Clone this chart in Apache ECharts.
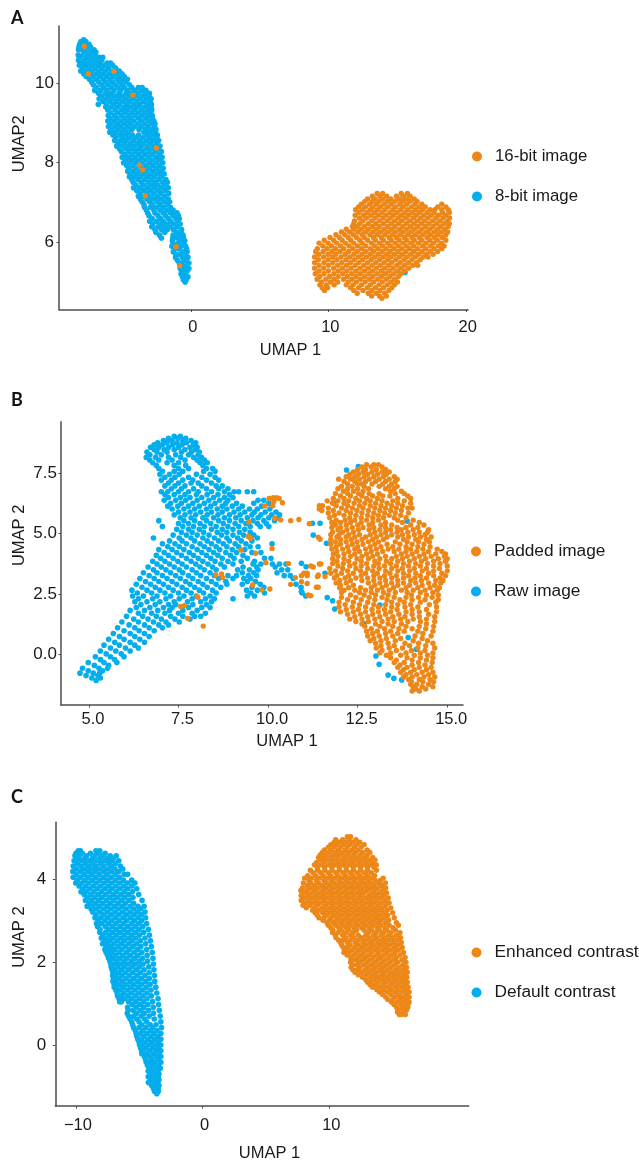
<!DOCTYPE html>
<html><head><meta charset="utf-8">
<style>html,body{margin:0;padding:0;background:#fff}#c{width:639px;height:1162px}</style>
<script src="https://cdn.jsdelivr.net/npm/echarts@6/dist/echarts.min.js"></script>
</head><body><div id="c"></div>
<script>
// Each row: [y, x, x, x ...].
const aBlue = [
[11.08,-7.8],[11.04,-8.0,-7.65],[10.97,-8.1,-7.85,-7.42],[10.9,-8.15,-7.6,-7.3],[10.83,-8.18,-7.92,-7.4,-7.05],[10.77,-7.7,-7.2,-6.92],[10.7,-8.2,-7.85,-7.4,-6.98],[10.64,-8.1,-7.55,-7.1,-6.7,-6.42],
[10.57,-8.18,-7.75,-7.3,-6.85,-6.5],[10.5,-7.95,-7.5,-7.0,-6.62,-6.1,-5.85],[10.44,-8.12,-7.7,-7.25,-6.75,-6.3,-5.7],[10.37,-7.9,-7.45,-6.98,-6.5,-6.02,-5.48],[10.3,-8.02,-7.6,-7.18,-6.72,-6.2,-5.75,-5.22],
[10.23,-7.8,-7.3,-6.85,-6.42,-5.9,-5.42,-5.02],[10.16,-7.62,-7.08,-6.6,-6.15,-5.65,-5.2,-4.85],[10.09,-7.38,-6.9,-6.38,-5.88,-5.38,-4.95,-4.62],[10.02,-7.22,-6.72,-6.2,-5.72,-5.18,-4.72],[9.95,-7.1,-6.5,-6.02,-5.5,-5.0,-4.48],
[9.88,-6.85,-6.35,-5.8,-5.3,-4.85,-4.3,-3.82,-3.55],[9.81,-7.0,-6.55,-6.1,-5.6,-5.12,-4.62,-4.12,-3.6,-3.28],[9.74,-6.72,-6.2,-5.78,-5.22,-4.72,-4.3,-3.82,-3.3,-3.02],[9.67,-6.5,-5.98,-5.5,-5.02,-4.48,-3.98,-3.5,-3.05],
[9.6,-6.68,-6.2,-5.72,-5.25,-4.75,-4.22,-3.7,-3.22,-2.9],[9.53,-6.4,-5.92,-5.42,-4.95,-4.48,-3.95,-3.45,-2.95],[9.46,-6.74,-6.15,-5.65,-5.18,-4.65,-4.15,-3.72,-3.18,-2.88],[9.39,-6.2,-5.82,-5.35,-4.85,-4.38,-3.9,-3.4,-2.9],
[9.32,-6.05,-5.52,-5.05,-4.6,-4.12,-3.6,-3.12,-2.85],[9.25,-5.85,-5.32,-4.8,-4.3,-3.85,-3.35,-2.92],[9.18,-6.02,-5.55,-5.05,-4.55,-4.08,-3.58,-3.1,-2.82],[9.11,-5.88,-5.38,-4.85,-4.38,-3.82,-3.3,-2.8],
[9.04,-6.05,-5.6,-5.1,-4.62,-4.15,-3.6,-3.05,-2.7],[8.97,-5.85,-5.35,-4.85,-4.4,-3.85,-3.35,-2.88,-2.62],[8.9,-6.0,-5.52,-5.1,-4.58,-4.1,-3.62,-3.15,-2.65],[8.83,-5.78,-5.3,-4.82,-4.3,-3.78,-3.3,-2.85,-2.55],
[8.76,-5.9,-5.52,-5.02,-4.55,-3.42,-3.02,-2.58],[8.69,-5.68,-5.22,-4.75,-4.25,-3.8,-3.2,-2.72,-2.45],[8.62,-5.48,-4.98,-4.5,-4.02,-3.5,-3.0,-2.48],[8.55,-5.55,-5.12,-4.7,-4.2,-3.72,-3.22,-2.75,-2.35],
[8.48,-5.32,-4.85,-4.38,-3.9,-3.45,-2.95,-2.5],[8.41,-5.4,-5.02,-4.55,-4.1,-3.62,-3.15,-2.65,-2.25],[8.34,-5.2,-4.72,-4.25,-3.78,-3.28,-2.85,-2.38],[8.27,-5.05,-4.52,-4.02,-3.55,-3.08,-2.58,-2.15],
[8.2,-4.8,-4.3,-3.8,-3.3,-2.82,-2.3],[8.13,-5.0,-4.55,-4.08,-3.58,-3.08,-2.52,-2.1],[8.06,-4.78,-4.3,-3.82,-3.28,-2.8,-2.28],[7.99,-4.9,-4.5,-4.02,-3.55,-3.02,-2.55,-2.05],
[7.92,-4.68,-4.22,-3.7,-3.25,-2.78,-2.3],[7.85,-4.52,-4.0,-3.5,-3.0,-2.5,-2.02],[7.78,-4.6,-4.25,-3.72,-3.25,-2.75,-2.22],[7.71,-4.42,-3.95,-3.42,-2.95,-2.42,-1.95],
[7.64,-4.48,-4.12,-3.68,-3.15,-2.68,-2.15],[7.57,-4.3,-3.85,-3.35,-2.85,-2.35,-1.82],[7.5,-4.2,-3.62,-3.08,-2.6,-2.05,-1.72],[7.43,-4.0,-3.42,-2.88,-2.4,-1.85],
[7.36,-4.18,-3.7,-3.15,-2.65,-2.12,-1.65],[7.29,-3.95,-3.45,-2.95,-2.4,-1.88],[7.22,-3.75,-3.2,-2.7,-2.18,-1.62],[7.15,-3.82,-3.48,-2.98,-2.45,-1.9],
[7.08,-3.68,-3.2,-2.72,-2.2,-1.65],[7.01,-3.55,-3.0,-2.48,-1.95,-1.55],[6.94,-3.42,-2.82,-2.25,-1.72],[6.87,-3.38,-2.95,-2.52,-2.02,-1.5],[6.8,-3.25,-2.7,-2.25,-1.75,-1.3],
[6.73,-3.15,-2.62,-2.02,-1.48,-1.02],[6.66,-3.05,-2.4,-1.85,-1.3,-0.92],[6.59,-2.82,-2.22,-1.65,-1.1,-0.85],[6.52,-3.0,-2.5,-2.02,-1.48,-0.95],
[6.45,-2.78,-2.22,-1.78,-1.25,-0.78],[6.38,-2.85,-2.4,-1.98,-1.55,-1.0],[6.31,-2.62,-2.15,-1.72,-1.28,-0.68],[6.24,-2.55,-1.9,-1.02,-0.72],[6.17,-2.28,-1.3,-0.85,-0.58],
[6.1,-2.15,-1.32,-1.02,-0.55],[6.03,-1.35,-0.78,-0.45],[5.96,-1.3,-0.95,-0.52],[5.89,-1.38,-0.72,-0.38],[5.82,-1.2,-0.9,-0.32],[5.75,-1.28,-0.58,-0.28],[5.68,-1.08,-0.78,-0.4],
[5.61,-1.12,-0.6,-0.22],[5.54,-0.98,-0.42],[5.47,-0.85,-0.65,-0.15],[5.4,-0.72,-0.35],[5.33,-0.78,-0.5,-0.15],[5.26,-0.68,-0.28],[5.19,-0.72,-0.45],[5.12,-0.6,-0.22],[5.05,-0.55,-0.35],[4.99,-0.42],[5.23,15.58]
];
const aOrange = [
[7.22,13.55,13.95,15.3,15.75],[7.15,13.2,13.75,14.25,14.95,15.45,15.95],[7.08,12.85,13.4,13.95,14.55,15.15,15.7,16.25],[7.02,12.65,13.2,13.7,14.3,14.85,15.4,15.95,16.45],
[6.95,12.4,13.0,13.5,14.05,14.6,15.2,15.7,16.3,16.8,18.25],[6.88,12.2,12.7,13.25,13.8,14.35,14.9,15.45,16.05,16.6,17.05,17.95,18.55],[6.81,11.98,12.5,13.05,13.58,14.12,14.7,15.25,15.78,16.35,16.85,17.4,17.75,18.25,18.72],
[6.74,12.22,12.82,13.35,13.9,14.48,15.0,15.58,16.1,16.62,17.2,17.7,18.3,18.8],[6.67,11.95,12.55,13.1,13.65,14.2,14.75,15.32,15.85,16.4,16.95,17.48,18.02,18.55],[6.6,12.25,12.8,13.4,13.98,14.5,15.08,15.62,16.18,16.72,17.25,17.82,18.35,18.82],
[6.53,11.9,12.52,13.15,13.72,14.28,14.82,15.35,15.92,16.48,17.02,17.58,18.12,18.68],[6.46,11.85,12.28,12.9,13.45,14.0,14.58,15.12,15.68,16.22,16.78,17.32,17.88,18.42,18.8],[6.39,11.75,12.1,12.62,13.2,13.72,14.3,14.85,15.42,15.98,16.5,17.08,17.62,18.18,18.72],
[6.32,11.3,11.85,12.38,12.92,13.5,14.05,14.6,15.18,15.72,16.25,16.82,17.38,17.95,18.48],[6.25,10.95,11.55,12.15,12.7,13.25,13.8,14.35,14.9,15.45,16.02,16.58,17.15,17.7,18.25,18.68],[6.18,10.55,11.2,11.82,12.45,13.02,13.55,14.12,14.68,15.22,15.78,16.32,16.88,17.42,17.98,18.55],
[6.11,10.12,10.8,11.45,12.05,12.62,13.28,13.85,14.42,14.95,15.52,16.08,16.62,17.18,17.72,18.28],[6.04,9.7,10.38,11.0,11.62,12.28,12.85,13.42,14.0,14.58,15.15,15.7,16.25,16.8,17.38,17.92,18.55],[5.97,9.32,9.98,10.6,11.25,11.85,12.45,13.12,13.72,14.3,14.85,15.42,16.0,16.55,17.1,17.65,18.22],
[5.9,9.6,10.22,10.88,11.5,12.12,12.72,13.38,13.95,14.52,15.1,15.68,16.22,16.85,17.42,18.0,18.42],[5.83,9.2,9.9,10.52,11.12,11.78,12.42,13.05,13.62,14.2,14.78,15.35,15.92,16.5,17.08,17.68,18.25],[5.76,9.08,9.62,10.25,10.85,11.48,12.1,12.72,13.3,13.92,14.5,15.08,15.65,16.22,16.82,17.4,17.95],
[5.69,9.3,9.98,10.55,11.22,11.85,12.45,13.05,13.65,14.25,14.82,15.4,16.0,16.55,17.15,17.62],[5.62,9.0,9.65,10.3,10.92,11.55,12.18,12.78,13.38,13.98,14.55,15.15,15.72,16.32,16.9,17.25],[5.55,9.28,9.98,10.62,11.28,11.88,12.5,13.12,13.72,14.32,14.9,15.5,16.08,16.68],
[5.48,9.0,9.68,10.32,10.98,11.6,12.22,12.85,13.45,14.05,14.62,15.22,15.82,16.42],[5.41,9.32,10.0,10.68,11.32,11.95,12.58,13.18,13.78,14.38,14.98,15.55,16.15,16.5],[5.34,9.0,9.65,10.38,11.02,11.65,12.3,12.9,13.5,14.1,14.7,15.28,15.85],
[5.27,9.32,10.0,10.72,11.35,12.0,12.62,13.22,13.85,14.42,15.02,15.55],[5.2,9.05,9.68,10.4,11.05,11.7,12.32,12.95,13.55,14.15,14.75,15.28],[5.13,9.38,10.08,10.72,11.38,12.02,12.65,13.25,13.88,14.48,15.1],
[5.06,9.18,9.82,10.42,11.1,11.72,12.35,12.98,13.6,14.22,14.82],[4.99,9.5,10.15,10.68,11.45,12.05,12.68,13.3,13.92,14.55,15.02],[4.92,9.38,9.85,10.42,11.3,11.8,12.42,13.05,13.68,14.28,14.8],
[4.85,9.55,9.95,11.62,12.2,12.82,13.42,14.02,14.62],[4.78,9.72,11.85,12.52,13.15,13.75,14.4],[4.71,12.1,12.9,13.48,14.1],[4.64,13.15,13.72,14.22],[4.58,13.9],
[10.92,-7.76],[10.23,-7.47],[10.29,-5.6],[9.69,-4.22],[8.36,-2.52],[7.93,-3.74],[7.81,-3.52],[7.16,-3.32],[5.88,-1.09],[5.4,-0.82]
];
const bBlue = [
[9.04,7.38,7.55],[8.95,7.22,7.48,7.7],[8.86,7.08,7.32,7.62,7.85],[8.77,6.92,7.18,7.46,7.72,7.98],[8.68,6.82,7.05,7.34,7.6,7.92],[8.58,6.72,6.95,7.22,7.5,7.82,8.02],[8.48,6.82,7.1,7.38,7.68,7.96],
[8.38,6.62,6.9,7.18,7.58,7.86,8.08],[8.27,6.7,7.02,7.42,7.78,8.05],[8.16,6.6,6.86,7.22,7.56,7.92,8.14],[8.05,6.7,6.95,7.32,7.68,8.02,8.22],[7.94,6.78,7.18,7.5,8.1,8.3],[7.83,6.88,7.38,7.7,8.18],
[7.7,6.95,7.5,7.78,8.28,8.45],[7.58,7.05,7.38,7.62,8.2,8.52],[7.46,6.98,7.25,7.52,8.0,8.38],[7.34,7.12,7.4,7.78,8.15,8.52],[7.22,7.02,7.3,7.62,7.9,8.28,8.62],[7.1,7.22,7.5,7.85,8.05,8.42],
[6.98,7.12,7.4,7.68,8.15,8.55,8.72],[6.86,7.3,7.58,7.92,8.28,8.62,8.88],[6.74,7.02,7.2,7.5,7.78,8.05,8.42,8.78,9.05,9.18,9.42,9.6],[6.62,7.12,7.38,7.68,8.0,8.3,8.6,8.92],[6.5,7.22,7.55,7.82,8.15,8.48,8.78,9.02],
[6.38,7.1,7.42,7.7,8.02,8.35,8.65,8.88,9.72,9.88],[6.26,7.28,7.58,7.9,8.22,8.52,8.82,9.12,9.6,10.02],[6.14,7.2,7.48,7.78,8.08,8.4,8.72,9.0,9.28,9.82],[6.02,7.32,7.65,7.95,8.28,8.58,8.85,9.18,9.48,9.7,10.05],
[5.9,7.5,7.82,8.12,8.42,8.72,9.05,9.35,9.62,9.92,10.22],[5.78,7.38,7.68,7.98,8.3,8.6,8.92,9.22,9.55,9.8,10.1,10.32],[5.66,7.55,7.85,8.18,8.48,8.78,9.1,9.42,9.72,10.02,10.28],[5.54,6.95,7.65,7.95,8.28,8.62,8.92,9.25,9.58,9.88,10.18],
[5.42,7.5,7.78,8.1,8.4,8.75,9.08,9.38,9.7,9.95],[5.3,7.05,7.62,7.92,8.22,8.55,8.88,9.18,9.5,9.78,10.02],[5.18,7.45,7.78,8.08,8.42,8.72,9.02,9.35],[5.06,7.58,7.88,8.2,8.58,8.85,9.2,9.5],
[4.94,7.35,7.72,8.02,8.35,8.7,9.02,9.32,9.6],[4.82,6.8,7.52,7.85,8.18,8.5,8.85,9.15,9.7],[4.7,7.25,7.6,7.95,8.3,8.62,8.92,9.25,9.55],[4.58,7.05,7.4,7.72,8.1,8.42,8.75,9.08,9.38,10.11],
[4.46,7.2,7.52,7.88,8.22,8.55,8.85,9.18,9.5,9.72],[4.34,6.95,7.32,7.65,8.02,8.35,8.65,9.0,9.35],[4.22,7.1,7.45,7.8,8.15,8.48,8.82,9.12,9.55,9.8],[4.1,6.88,7.22,7.58,7.92,8.28,8.6,8.95,9.3],
[3.98,7.0,7.35,7.72,8.05,8.4,8.72,9.05,9.42,9.9,10.08],[3.86,6.78,7.12,7.48,7.85,8.18,8.52,8.88,9.25,9.62],[3.74,6.9,7.25,7.6,7.98,8.32,8.68,9.02,9.58,9.8,10.12,10.32,10.5],[3.62,6.65,7.02,7.38,7.72,8.1,8.45,8.78,9.3,9.68,10.2],
[3.5,6.8,7.15,7.52,7.88,8.22,8.55,9.15,9.48,9.72,10.38,10.55],[3.38,6.52,6.9,7.28,7.62,8.0,8.38,9.28,9.6,10.25],[3.26,6.68,7.05,7.42,7.78,8.12,8.5,8.88,9.12,9.45,9.68,10.45,10.62],[3.14,6.42,6.82,7.18,7.55,7.9,8.28,8.62,9.02,9.32,9.52,10.7],
[3.02,6.58,6.95,7.32,7.7,8.05,8.42,8.82,9.42,9.65],[2.9,6.32,6.72,7.08,7.45,7.82,8.18,8.55,8.85,9.28,9.78,10.78],[2.78,6.48,6.85,7.22,7.6,7.95,8.3,8.68,9.55,9.88,10.92],
[2.66,6.2,6.62,6.98,7.35,7.72,8.08,8.45,9.4,9.7],[2.54,6.35,6.75,7.12,7.5,7.85,8.2,8.55,9.52,9.9,10.95],[2.42,6.22,6.52,6.9,7.28,7.65,8.0,8.38,9.42,9.62,11.05],[2.3,6.38,6.78,7.15,7.52,7.88,8.25,8.5,9.02],
[2.18,6.28,6.62,6.98,7.38,7.75,8.12,8.42],[2.06,6.45,6.85,7.22,7.42,7.9,8.28],[1.94,6.32,6.7,7.08,7.32,7.78,8.15,8.38],[1.82,6.15,6.55,6.92,7.25,7.62,8.02],[1.7,6.38,6.75,7.12,7.5,7.88,8.25],
[1.58,6.05,6.5,6.88,7.28,7.62,7.95,8.12],[1.46,6.25,6.65,7.02,7.4,7.82],[1.34,5.92,6.38,6.8,7.15,7.52],[1.22,6.12,6.55,6.95,7.22],[1.1,5.8,6.28,6.68,7.05],[0.98,5.98,6.4,6.82],[0.86,5.68,6.15,6.55],
[0.74,5.85,6.28,6.68],[0.62,5.55,5.98,6.42],[0.5,5.72,6.15,6.55],[0.38,5.42,5.85,6.28],[0.26,5.6,6.02,6.38],[0.14,5.32,5.75,6.15],[0.02,5.48,5.9],[-0.1,5.18,5.6,5.98],[-0.22,5.32,5.72],
[-0.34,4.98,5.42,5.78],[-0.46,5.15,5.55],[-0.58,4.82,5.28,5.52],[-0.68,4.98,5.38],[-0.78,4.75,5.12,5.3],[-0.88,4.92,5.25],[-0.98,5.08,5.32],[-1.08,5.2],
[7.64,12.19],[7.78,12.52],[6.28,11.82],[5.43,11.24,11.45],[4.94,11.26],[4.6,11.63],[3.77,10.93],[3.63,11.06],[3.36,11.59],
[2.6,10.93],[2.35,11.65],[2.22,11.8],[1.88,11.86],[1.26,12.68],[2.04,13.12],[-0.07,13.01],[-0.41,13.1],[-0.86,13.35],[-0.99,13.51],[-1.06,13.73],[0.7,13.91],[0.21,14.14],[5.52,13.88]
];
const bOrange = [
[6.46,10.03,10.31],[6.49,10.14,10.24],[6.28,10.4],[6.15,9.91],[6.33,10.16],[6.16,10.13,11.43],[5.64,10.19],[5.57,10.35],[5.54,10.63],[5.59,10.86],[5.41,11.15],
[5.48,9.47],[4.88,9.45],[4.81,9.51],[4.32,9.24],[4.19,9.65],[4.39,10.11],[3.8,9.94],[3.76,10.57],[3.66,11.19],[3.62,11.26],[3.29,8.54],[3.33,8.7],[3.18,8.73,10.76],
[3.36,11.0,11.09],[3.26,10.93,11.09],[3.01,10.93],[2.9,10.63],[2.94,11.09],[3.22,11.38,11.59],[2.78,11.35,11.4],[2.87,9.57],[2.67,9.82],[2.71,10.05],[2.43,11.19],[2.4,8.02],[2.36,8.04],
[1.98,7.56],[2.02,7.66],[1.49,7.76],[1.17,8.19],[6.02,11.43],[4.85,11.4],[3.74,11.43,11.47],[4.77,11.45],[2.46,11.12],[3.29,11.4],
[7.86,12.75,12.95,13.08],[7.76,12.62,12.88,13.18],[7.66,12.5,12.72,13.02,13.28],[7.56,12.38,12.65,12.9,13.18,13.38],[7.46,12.28,12.52,12.78,13.05,13.3],[7.36,12.18,12.42,12.68,12.95,13.22,13.52],
[7.26,11.97,12.3,12.55,12.82,13.1,13.38,13.6],[7.16,12.12,12.42,12.72,13.0,13.28,13.55],[7.06,12.22,12.5,12.62,12.9,13.2,13.45],[6.96,12.05,12.35,12.68,13.1,13.38,13.6],[6.86,11.95,12.22,12.5,12.8,13.28,13.52],
[6.76,12.1,12.38,12.65,13.42,13.72],[6.66,11.88,12.22,12.52,12.82,13.1,13.55,13.8],[6.56,12.02,12.3,12.62,12.92,13.2,13.4,13.9],[6.46,11.82,12.12,12.45,12.75,13.05,13.62,13.98],
[6.36,11.65,11.95,12.25,12.55,12.85,13.18,13.48,13.8],[6.26,11.8,12.12,12.4,12.7,13.0,13.32,13.62,13.98],[6.16,11.52,11.9,12.22,12.55,12.85,13.15,13.45,13.75],[6.06,11.68,12.05,12.35,12.65,12.98,13.28,13.58,13.9,14.02],
[5.96,11.5,11.82,12.18,12.48,12.8,13.12,13.42,13.72],[5.86,11.68,11.98,12.3,12.62,12.95,13.25,13.55,13.92],[5.76,11.85,12.12,12.45,12.78,13.08,13.38,13.7],[5.66,11.72,12.28,12.6,12.92,13.22,13.52,13.85],
[5.56,11.9,12.15,12.42,12.75,13.08,13.62,14.05],[5.46,11.78,12.02,12.3,12.6,12.92,13.28,13.75,14.22],[5.36,11.88,12.18,12.5,12.82,13.15,13.45,13.98,14.35],[5.26,11.78,12.02,12.35,12.65,12.95,13.28,13.6,13.85,14.18],
[5.16,11.95,12.2,12.52,12.82,13.12,13.42,13.72,14.05,14.48],[5.06,11.8,12.08,12.38,12.98,13.28,13.6,13.9,14.22,14.45],[4.96,11.75,11.98,12.25,12.55,12.85,13.15,13.45,13.75,14.08,14.38],[4.86,11.92,12.18,12.42,12.72,13.02,13.32,13.62,13.92,14.25,14.55],
[4.76,11.75,12.02,12.32,12.62,12.92,13.22,13.78,14.12,14.42],[4.66,11.88,12.18,12.48,12.8,13.08,13.55,13.88,14.2,14.5],[4.56,11.75,12.02,12.35,12.65,12.98,13.32,13.68,14.02,14.35],[4.46,11.9,12.22,12.5,12.85,13.15,13.48,13.85,14.18,14.52],
[4.36,11.78,12.08,12.42,12.72,13.02,13.35,13.65,13.98,14.32,14.72],[4.26,11.92,12.25,12.55,12.88,13.2,13.52,13.85,14.15,14.48,14.85],[4.16,11.82,12.12,12.42,12.75,13.05,13.72,14.02,14.35,14.68,14.95],[4.06,11.95,12.3,12.62,12.92,13.28,13.58,13.88,14.22,14.55,14.92],
[3.96,11.8,12.12,12.48,12.8,13.12,13.45,13.75,14.08,14.4,14.75,15.0],[3.86,11.92,12.25,12.6,12.98,13.3,13.62,13.95,14.28,14.62,14.95],[3.76,11.8,12.1,12.42,12.75,13.08,13.42,13.78,14.12,14.45,14.8],[3.66,11.95,12.28,12.6,12.95,13.25,13.58,13.92,14.25,14.62,15.0],
[3.56,11.72,12.08,12.45,12.78,13.1,13.45,13.75,14.08,14.42,14.78],[3.46,11.88,12.22,12.58,12.92,13.28,13.62,13.95,14.3,14.62,15.0],[3.36,11.75,12.05,12.38,12.72,13.05,13.4,13.78,14.12,14.48,14.85],[3.26,11.92,12.25,12.6,12.95,13.25,13.58,13.92,14.25,14.62,14.95],
[3.16,11.85,12.15,12.45,12.78,13.12,13.45,13.78,14.1,14.42,14.8],[3.06,12.0,12.3,12.62,12.95,13.28,13.62,13.98,14.28,14.68,14.88],[2.96,11.9,12.18,12.8,13.12,13.45,13.78,14.12,14.48,14.82],[2.86,12.02,12.38,12.98,13.3,13.62,13.95,14.3,14.65],
[2.76,12.0,12.25,12.58,12.88,13.18,13.5,13.85,14.18,14.52,14.78],[2.66,12.12,12.42,12.72,13.05,13.38,13.72,14.05,14.38,14.72],[2.56,12.05,12.55,12.88,13.22,13.55,13.88,14.25,14.6],[2.46,12.3,12.68,13.0,13.35,14.0,14.42,14.75],
[2.36,12.05,12.45,12.82,13.18,13.52,13.85,14.2,14.58],[2.26,12.22,12.6,12.98,13.32,13.68,14.02,14.38,14.75],[2.16,11.98,12.38,12.78,13.45,13.8,14.25,14.68],[2.06,12.15,12.55,12.95,13.28,13.62,13.98,14.5],
[1.96,11.98,12.35,12.72,13.08,13.45,13.82,14.18,14.7],[1.86,12.18,12.52,12.9,13.25,13.6,14.02,14.42],[1.76,12.02,12.38,12.72,13.08,13.42,13.85,14.22,14.7],[1.66,12.22,12.58,12.92,13.28,13.65,14.02,14.48],
[1.56,12.42,12.78,13.12,13.48,13.82,14.22,14.65],[1.46,12.28,12.62,12.98,13.35,13.7,14.05,14.42],[1.36,12.45,12.8,13.18,13.52,13.9,14.25,14.65],[1.26,12.62,13.0,13.35,13.72,14.42],
[1.16,12.7,13.12,13.48,13.85,14.22,14.62],[1.06,12.88,13.25,13.65,14.02,14.4],[0.96,12.75,13.05,13.42,13.8,14.18,14.6],[0.86,12.92,13.28,13.62,14.32],[0.76,12.78,13.1,13.48,14.1,14.55],
[0.66,12.95,13.3,13.7,14.3],[0.56,12.85,13.15,13.55,14.05,14.45],[0.46,13.0,13.35,13.82,14.2,14.6],[0.36,13.15,13.52,13.95,14.4],[0.26,13.02,13.38,13.75,14.18,14.65],[0.16,13.18,13.58,14.0,14.38],
[0.06,13.12,13.42,13.85,14.25,14.6],[-0.04,13.3,13.7,14.08,14.45],[-0.14,13.42,13.88,14.25,14.6],[-0.24,13.58,14.02,14.42],[-0.34,13.52,13.8,14.2,14.58],[-0.44,13.68,14.02,14.38],
[-0.54,13.62,13.88,14.22,14.55],[-0.64,13.78,14.08,14.42],[-0.74,13.7,13.98,14.3,14.6],[-0.84,13.85,14.15,14.48],[-0.94,13.78,14.02,14.35,14.65],[-1.04,13.92,14.22,14.52],[-1.14,14.0,14.32,14.62],
[-1.24,13.98,14.15,14.48],[-1.34,14.05,14.3,14.6],[-1.44,14.12,14.4],[-1.52,14.02,14.22]
];
const cBlue = [
[4.7,-9.82,-9.65,-8.42,-8.12],[4.64,-10.0,-9.5,-8.85,-8.25,-7.7],[4.58,-10.08,-9.72,-9.15,-8.5,-7.9,-7.3,-6.82],[4.52,-9.85,-9.3,-8.7,-8.1,-7.52,-7.05],[4.46,-10.15,-9.55,-8.95,-8.35,-7.75,-7.2,-6.62],
[4.39,-9.9,-9.25,-8.68,-8.05,-7.42,-6.88],[4.33,-10.22,-9.6,-9.0,-8.42,-7.8,-7.2,-6.5],[4.26,-9.95,-9.32,-8.72,-8.12,-7.5,-6.92,-6.3],[4.2,-10.25,-9.62,-9.02,-8.45,-7.8,-7.22,-6.62],
[4.13,-9.98,-9.35,-8.75,-8.15,-7.55,-6.9,-6.2,-5.92],[4.06,-10.22,-9.65,-9.05,-8.45,-7.82,-7.22,-6.58],[3.99,-9.9,-9.3,-8.72,-8.12,-7.5,-6.88,-6.25,-5.6],[3.92,-10.02,-9.55,-9.0,-8.4,-7.78,-7.18,-6.55,-5.92,-5.35],
[3.85,-9.75,-9.22,-8.65,-8.05,-7.45,-6.85,-6.22,-5.58],[3.78,-9.45,-8.9,-8.32,-7.72,-7.15,-6.52,-5.92,-5.2],[3.71,-9.6,-9.15,-8.58,-7.98,-7.38,-6.8,-6.18,-5.55],[3.64,-9.35,-8.82,-8.25,-7.65,-7.05,-6.45,-5.85,-5.05],
[3.57,-9.1,-8.52,-7.95,-7.32,-6.75,-6.15,-5.5],[3.5,-9.25,-8.78,-8.2,-7.6,-7.02,-6.42,-5.8,-4.78],[3.43,-8.95,-8.45,-7.88,-7.28,-6.68,-6.1,-5.45],[3.36,-9.12,-8.7,-8.15,-7.55,-6.95,-6.35,-5.72,-5.1,-4.62],
[3.29,-8.8,-8.4,-7.82,-7.25,-6.65,-6.05,-5.42,-4.9],[3.22,-8.68,-8.12,-7.52,-6.92,-6.32,-5.72,-5.15,-4.55],[3.15,-8.42,-7.82,-7.22,-6.62,-6.02,-5.42,-4.85],[3.08,-8.5,-8.05,-7.5,-6.9,-6.28,-5.7,-5.1,-4.5],
[3.01,-8.25,-7.72,-7.18,-6.6,-6.0,-5.4,-4.82],[2.94,-8.38,-7.98,-7.42,-6.85,-6.25,-5.62,-5.05,-4.42],[2.87,-8.3,-7.68,-7.12,-6.52,-5.92,-5.32,-4.72],[2.8,-8.1,-7.42,-6.82,-6.22,-5.62,-5.02,-4.28],
[2.73,-8.12,-7.65,-7.1,-6.52,-5.92,-5.3,-4.65],[2.66,-7.9,-7.38,-6.8,-6.2,-5.6,-4.98,-4.2],[2.59,-8.0,-7.62,-7.08,-6.48,-5.88,-5.28,-4.55],[2.52,-7.78,-7.32,-6.75,-6.18,-5.58,-4.92,-4.12],
[2.45,-7.9,-7.52,-7.0,-6.42,-5.82,-5.22,-4.5],[2.38,-7.62,-7.22,-6.68,-6.1,-5.5,-4.88,-4.05],[2.31,-7.72,-7.4,-6.95,-6.38,-5.78,-5.15,-4.42],[2.24,-7.62,-7.15,-6.62,-6.02,-5.42,-4.8,-3.98],
[2.17,-7.5,-7.35,-6.88,-6.3,-5.72,-5.12,-4.38],[2.1,-7.42,-7.05,-6.55,-5.98,-5.38,-4.75,-3.92],[2.03,-7.32,-6.78,-6.22,-5.62,-5.02,-4.35],[1.96,-7.25,-6.98,-6.48,-5.92,-5.32,-4.7,-3.88],
[1.89,-7.22,-6.72,-6.18,-5.58,-4.98,-4.25],[1.82,-7.15,-6.95,-6.42,-5.85,-5.25,-4.62,-3.85],[1.75,-7.08,-6.65,-6.12,-5.52,-4.92,-4.22],[1.68,-7.1,-6.88,-6.38,-5.8,-5.18,-4.55,-3.8],
[1.61,-7.05,-6.6,-6.05,-5.45,-4.85,-4.2],[1.54,-7.08,-6.82,-6.32,-5.72,-5.12,-4.5,-3.78],[1.47,-6.98,-6.55,-6.02,-5.42,-4.82,-4.15],[1.4,-6.98,-6.78,-6.28,-5.68,-5.08,-4.45,-3.7],
[1.33,-6.85,-6.45,-5.95,-5.35,-4.75,-4.08],[1.26,-6.75,-6.22,-5.65,-5.05,-4.4,-3.62],[1.19,-6.72,-6.42,-5.9,-5.32,-4.72,-4.05],[1.12,-6.6,-6.18,-5.6,-5.0,-4.38,-3.52],[1.05,-6.55,-6.42,-5.85,-5.28,-4.68,-3.95],
[0.98,-5.55,-4.95,-4.32,-3.48],[0.91,-5.92,-5.25,-4.65,-3.9],[0.84,-5.88,-5.5,-4.9,-4.28,-3.42],[0.77,-5.95,-5.22,-4.62,-3.88],[0.7,-5.85,-5.45,-4.85,-4.22,-3.35],[0.63,-5.72,-5.2,-4.58,-3.82],
[0.56,-5.6,-5.02,-4.42,-3.3],[0.49,-5.52,-4.8,-4.15,-3.68],[0.42,-5.45,-5.02,-4.48,-3.95,-3.25],[0.35,-5.32,-4.72,-4.12,-3.6],[0.28,-5.25,-4.92,-4.4,-3.85,-3.3],[0.21,-5.2,-4.65,-4.08,-3.55],
[0.14,-5.12,-4.85,-4.32,-3.78,-3.3],[0.07,-5.02,-4.55,-4.02,-3.52],[0.0,-4.98,-4.78,-4.25,-3.72,-3.3],[-0.07,-4.9,-4.48,-3.95,-3.48],[-0.14,-4.82,-4.7,-4.2,-3.7,-3.3],[-0.21,-4.8,-4.38,-3.9,-3.45],
[-0.28,-4.6,-4.15,-3.68,-3.3],[-0.35,-4.5,-4.02,-3.52],[-0.42,-4.45,-4.18,-3.78,-3.3],[-0.49,-4.35,-3.95,-3.5],[-0.56,-4.22,-3.72,-3.35],[-0.63,-4.3,-3.95,-3.52],[-0.7,-4.18,-3.72,-3.45],[-0.77,-4.3,-3.92,-3.52],
[-0.84,-4.12,-3.68,-3.45],[-0.91,-4.28,-3.9,-3.55],[-0.98,-4.02,-3.62,-3.45],[-1.05,-3.88,-3.52],[-1.12,-3.8,-3.5],[-1.18,-3.62]
];
const cOrange = [
[5.04,11.42,11.68],[4.97,10.5,11.05,11.55,12.1],[4.91,10.38,10.78,11.28,11.82,12.4],[4.85,10.12,10.58,11.1,11.62,12.15,12.75],[4.79,9.92,10.4,10.9,11.42,11.98,12.52],[4.72,9.62,10.15,10.72,11.25,11.78,12.28,12.98],
[4.66,9.45,9.95,10.48,11.02,11.55,12.05,12.62,13.2],[4.6,9.28,9.78,10.3,10.82,11.38,11.92,12.45,12.98],[4.54,9.15,9.6,10.12,10.62,11.18,11.72,12.25,12.8,13.42],[4.48,9.35,9.88,10.42,10.98,11.5,12.05,12.58,13.12,13.6],
[4.42,9.0,9.58,10.2,10.72,11.28,11.82,12.38,12.92,13.42],[4.36,8.82,9.35,9.92,10.48,11.02,11.58,12.12,12.68,13.22,13.72],[4.3,9.05,9.62,10.2,10.78,11.32,11.88,12.45,13.0,13.52],[4.23,8.5,9.08,9.65,10.22,10.8,11.35,11.9,12.48,13.02,13.72],
[4.17,8.72,9.32,9.92,10.52,11.08,11.65,12.2,12.78,13.32],[4.1,8.3,8.92,9.52,10.1,10.7,11.28,11.85,12.42,13.0,13.58],[4.04,8.05,8.6,9.22,9.82,10.42,11.0,11.58,12.15,12.72,13.3,14.25],[3.98,8.38,8.98,9.58,10.15,10.75,11.32,11.9,12.48,13.05,13.62,14.02],
[3.92,7.95,8.55,9.15,9.78,10.38,10.95,11.55,12.12,12.7,13.28,13.88,14.42],[3.86,8.25,8.85,9.45,10.05,10.65,11.22,11.8,12.38,12.95,13.52,14.12],[3.8,7.88,8.52,9.12,9.72,10.32,10.92,11.5,12.08,12.65,13.25,13.82,14.45],
[3.74,7.75,8.25,8.85,9.48,10.08,10.68,11.28,11.85,12.42,13.0,13.58,14.2],[3.68,8.02,8.62,9.22,9.82,10.42,11.02,11.62,12.2,12.72,13.38,13.95,14.52],[3.62,7.78,8.35,8.95,9.55,10.15,10.75,11.35,11.92,12.5,13.12,13.68,14.28],
[3.56,8.05,8.68,9.28,9.88,10.48,11.08,11.68,12.28,12.85,13.42,14.02,14.65],[3.5,7.78,8.4,9.0,9.6,10.22,10.82,11.4,12.0,12.58,13.18,13.75,14.38],[3.44,8.1,8.72,9.32,9.95,10.55,11.15,11.72,12.32,12.92,13.5,14.1,14.72],
[3.38,7.92,8.45,9.05,9.68,10.28,10.88,11.48,12.05,12.65,13.25,13.85,14.45],[3.32,8.18,8.78,9.42,10.02,10.62,11.2,11.8,12.38,12.98,13.58,14.18,14.85],[3.26,8.68,9.15,9.75,10.35,10.95,11.55,12.15,12.72,13.32,13.9,14.55],
[3.2,8.88,9.48,10.08,10.68,11.28,11.88,12.48,13.05,13.65,14.25,15.0],[3.14,9.05,9.78,10.42,11.0,11.6,12.2,12.8,13.38,13.98,14.6],[3.08,9.18,9.58,10.15,10.75,11.35,11.95,12.55,13.12,13.72,14.32,15.12],
[3.02,9.5,10.0,10.55,11.12,11.7,12.28,12.88,13.48,14.05,14.68],[2.96,9.82,10.3,10.88,11.45,12.02,12.6,13.2,13.8,14.42,15.3],[2.9,9.92,10.5,11.08,11.65,12.25,12.85,13.45,14.05,14.72,15.45],[2.84,10.12,10.75,11.35,11.95,12.55,13.15,13.78,14.38,15.02],
[2.78,10.28,10.95,11.55,12.15,12.75,13.35,13.95,14.55,15.22],[2.72,10.25,10.68,11.28,11.88,13.08,13.68,14.28,14.88,15.58],[2.66,10.48,11.05,11.65,12.28,12.88,13.48,14.08,14.68,15.3],[2.6,10.52,11.3,11.92,12.55,13.15,13.75,14.38,15.0,15.62],
[2.54,10.72,11.1,11.68,12.28,12.88,13.5,14.12,14.72,15.35],[2.48,10.88,11.42,12.05,12.65,13.22,13.85,14.42,15.05,15.68],[2.42,10.98,11.65,12.28,12.9,13.52,14.15,14.75,15.38],[2.36,11.1,11.42,12.02,12.62,13.25,13.85,14.48,15.12,15.75],
[2.3,11.2,11.78,12.38,12.98,13.6,14.22,14.82,15.45],[2.24,11.15,11.55,12.15,12.72,13.32,13.92,14.55,15.18,15.85],[2.18,11.4,11.92,12.52,13.1,13.72,14.3,14.92,15.58],[2.12,11.7,12.28,12.85,13.45,14.05,14.68,15.28,15.98],
[2.06,11.72,12.05,12.62,13.22,13.82,14.42,15.05,15.72],[2.0,11.68,12.38,12.98,13.58,14.18,14.78,15.38,16.05],[1.94,11.82,12.15,12.72,13.32,13.92,14.52,15.15,15.8],[1.88,11.72,12.42,13.05,13.65,14.25,14.88,15.5,16.1],
[1.82,11.85,12.22,12.82,13.42,14.02,14.62,15.25,15.85],[1.76,12.02,12.55,13.15,13.75,14.35,14.98,15.58,16.15],[1.7,12.28,12.9,13.5,14.12,14.72,15.32,15.92],[1.64,12.62,13.22,13.82,14.42,15.05,15.65,16.12],
[1.58,12.88,13.52,14.12,14.72,15.35,15.95],[1.52,13.02,13.25,13.85,14.45,15.08,15.7,16.15],[1.46,13.22,13.62,14.22,14.82,15.42,16.02],[1.4,13.42,13.95,14.55,15.18,15.78,16.22],[1.34,13.75,14.25,14.85,15.48,16.05],
[1.28,13.95,14.55,15.18,15.8,16.3],[1.22,14.2,14.85,15.48,16.08],[1.16,14.45,15.18,15.78,16.3],[1.1,14.62,15.02,15.55,16.1],[1.04,14.9,15.38,15.88,16.3],[0.98,15.1,15.65,16.2],[0.92,15.3,15.9,16.18],[0.86,15.42,15.72,16.12],[0.8,15.38,15.95],[0.74,15.52,15.68,16.0]
];
const aXTicks=[0,10,20], aYTicks=[6,8,10];
const bXTicks=[5,7.5,10,12.5,15], bYTicks=[0,2.5,5,7.5];
const cXTicks=[-10,0,10], cYTicks=[0,2,4];
const aLegend=['16-bit image','8-bit image'], bLegend=['Padded image','Raw image'], cLegend=['Enhanced contrast','Default contrast'];
const FONT='"Liberation Sans",Arial,sans-serif', BLUE='#04ADEC', ORANGE='#EC8718', AXIS='#4d4d4d', INK='#1a1a1a';
const flat=rows=>rows.flatMap(([y,...xs])=>xs.map(x=>[x,y]));
const panels=[
 {g:{left:59,top:26,width:409,height:283.5},x:[-9.6,20.16],y:[4.30,11.43],xt:aXTicks,yt:aYTicks,fx:v=>String(v),fy:v=>String(v),leg:aLegend,lx:472,ly:147,lf:16.8,
  blue:aBlue,orange:aOrange,xn:'UMAP 1',yn:'UMAP2',xgap:32,ygap:31,xs:54,ys:48,xm:9,ym:5,xp:4},
 {g:{left:61,top:421.7,width:402,height:283.3},x:[4.22,15.44],y:[-2.1,9.64],xt:bXTicks,yt:bYTicks,fx:v=>v.toFixed(1),fy:v=>v.toFixed(1),leg:bLegend,lx:471,ly:542,lf:17.3,
  blue:bBlue,orange:bOrange,xn:'UMAP 1',yn:'UMAP 2',xgap:28,ygap:33,xs:50,ys:56,xm:6,ym:4,xp:8},
 {g:{left:55.3,top:822.3,width:413.4,height:283.7},x:[-11.63,21],y:[-1.476,5.39],xt:cXTicks,yt:cYTicks,fx:v=>String(v).replace('-','\u2212'),fy:v=>String(v),leg:cLegend,lx:471.5,ly:943,lf:17.3,
  blue:cBlue,orange:cOrange,xn:'UMAP 1',yn:'UMAP 2',xgap:39,ygap:27,xs:15,ys:54,xm:11,ym:9,xp:4}
];
const line={lineStyle:{color:AXIS,width:1.5}};
const opt={animation:false,backgroundColor:'#fff',
 title:[['A',11,9],['B',11,391],['C',11,788]].map(([t,l,tp])=>({text:t,left:l,top:tp,padding:0,textStyle:{fontFamily:'Lato,sans-serif',fontWeight:'bold',fontSize:18,color:'#111'}})),
 grid:panels.map(p=>({...p.g,containLabel:false,outerBoundsMode:'none'})),
 xAxis:panels.map((p,i)=>({type:'value',gridIndex:i,min:p.x[0],max:p.x[1],splitLine:{show:false},
  axisLine:{onZero:false,...line},axisTick:{show:true,length:2.5,customValues:p.xt,lineStyle:{color:AXIS,width:1}},
  axisLabel:{customValues:p.xt,formatter:p.fx,margin:p.xm,padding:[0,0,0,p.xp],fontFamily:FONT,fontSize:16.5,color:INK},
  name:p.xn,nameLocation:'middle',nameGap:p.xgap,nameMoveOverlap:false,nameTextStyle:{fontFamily:FONT,fontSize:16.5,color:INK,padding:[0,0,0,p.xs]}})),
 yAxis:panels.map((p,i)=>({type:'value',gridIndex:i,min:p.y[0],max:p.y[1],splitLine:{show:false},
  axisLine:{onZero:false,...line},axisTick:{show:true,length:2.5,customValues:p.yt,lineStyle:{color:AXIS,width:1}},
  axisLabel:{customValues:p.yt,formatter:p.fy,margin:p.ym,padding:[0,0,5,0],fontFamily:FONT,fontSize:17,color:INK},
  name:p.yn,nameLocation:'middle',nameGap:p.ygap,nameRotate:90,nameMoveOverlap:false,nameTextStyle:{fontFamily:FONT,fontSize:16.5,color:INK,padding:[0,0,0,p.ys]}})),
 legend:panels.map(p=>({data:p.leg,orient:'vertical',left:p.lx,top:p.ly,padding:0,itemGap:21,itemWidth:10,itemHeight:10,icon:'circle',
  textStyle:{fontFamily:FONT,fontSize:p.lf,color:INK,padding:[0,0,0,8],height:19,lineHeight:19},selectedMode:false})),
 series:panels.flatMap((p,i)=>[
  {name:p.leg[1],type:'scatter',xAxisIndex:i,yAxisIndex:i,data:flat(p.blue),symbolSize:5.6,itemStyle:{color:BLUE,opacity:1},silent:true},
  {name:p.leg[0],type:'scatter',xAxisIndex:i,yAxisIndex:i,data:flat(p.orange),symbolSize:5.4,itemStyle:{color:ORANGE,opacity:1},silent:true}
 ])
};
echarts.init(document.getElementById('c'),null,{renderer:'canvas'}).setOption(opt);
</script></body></html>
